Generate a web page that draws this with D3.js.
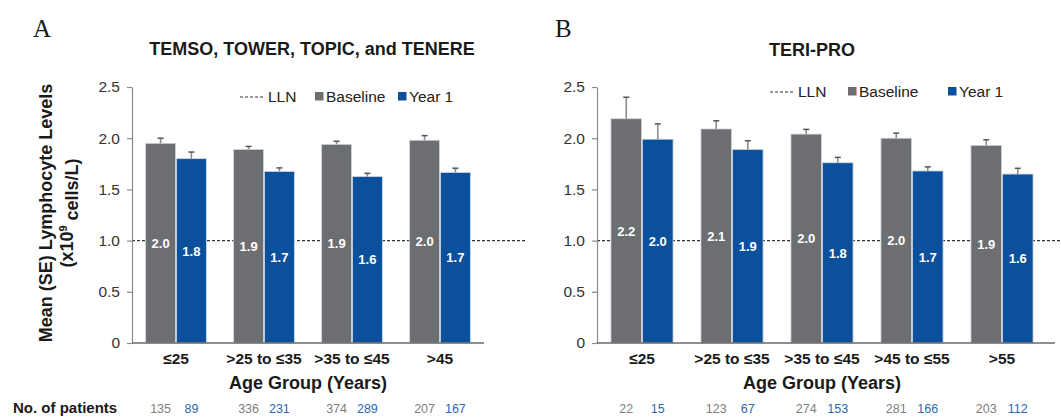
<!DOCTYPE html>
<html><head><meta charset="utf-8">
<script src="https://cdn.jsdelivr.net/npm/d3@7"></script>
<style>
html,body{margin:0;padding:0;background:#fff;}
svg text{font-family:"Liberation Sans",Arial,sans-serif;}
</style></head>
<body>
<svg id="chart" width="1061" height="417"></svg>
<script>
// ---- Data ----
const seriesNames = ["Baseline", "Year 1"];
const yTickValues = [0, 0.5, 1.0, 1.5, 2.0, 2.5];
const yTickLabels = ["0", "0.5", "1.0", "1.5", "2.0", "2.5"];
const lln = 1.0;

const ageGroupsA = ["≤25", ">25 to ≤35", ">35 to ≤45", ">45"];
const baselineA = [1.95, 1.89, 1.94, 1.98];
const baselineSEA = [0.05, 0.03, 0.03, 0.045];
const year1A = [1.80, 1.675, 1.625, 1.665];
const year1SEA = [0.065, 0.035, 0.032, 0.042];
const baselineLabelsA = ["2.0", "1.9", "1.9", "2.0"];
const year1LabelsA = ["1.8", "1.7", "1.6", "1.7"];
const baselineNA = [135, 336, 374, 207];
const year1NA = [89, 231, 289, 167];

const ageGroupsB = ["≤25", ">25 to ≤35", ">35 to ≤45", ">45 to ≤55", ">55"];
const baselineB = [2.19, 2.09, 2.04, 2.00, 1.93];
const baselineSEB = [0.21, 0.08, 0.046, 0.05, 0.055];
const year1B = [1.99, 1.89, 1.76, 1.68, 1.65];
const year1SEB = [0.15, 0.085, 0.053, 0.04, 0.056];
const baselineLabelsB = ["2.2", "2.1", "2.0", "2.0", "1.9"];
const year1LabelsB = ["2.0", "1.9", "1.8", "1.7", "1.6"];
const baselineNB = [22, 123, 274, 281, 203];
const year1NB = [15, 67, 153, 166, 112];

// ---- Style ----
const colors = {"Baseline": "#6d6e71", "Year 1": "#0a509c"};
const nColors = {"Baseline": "#7f7f7f", "Year 1": "#2c68b0"};

const svg = d3.select("#chart");

function drawPanel(cfg) {
  const g = svg.append("g");
  const x = d3.scaleBand().domain(cfg.groups).range([cfg.x0, cfg.x1]);
  const step = x.step();
  const inner = d3.scaleBand().domain(seriesNames)
    .range([-0.345 * step, 0.345 * step]).paddingInner(0.03);
  const y = d3.scaleLinear().domain([0, 2.5]).range([343, 87]);

  // LLN dashed line (behind bars)
  g.append("line").attr("x1", cfg.x0).attr("x2", cfg.dashEnd)
    .attr("y1", y(lln)).attr("y2", y(lln))
    .attr("stroke", "#333").attr("stroke-width", 1.2).attr("stroke-dasharray", "3,2");

  // y axis
  const yAxis = d3.axisLeft(y).tickValues(yTickValues)
    .tickFormat((d, i) => yTickLabels[i]).tickSize(5).tickPadding(7).tickSizeOuter(0);
  const ya = g.append("g").attr("transform", `translate(${cfg.x0},0)`).call(yAxis);
  ya.select(".domain").attr("stroke", "#8a8a8a").attr("stroke-width", 1.2);
  ya.selectAll(".tick line").attr("stroke", "#8a8a8a").attr("stroke-width", 1.2);
  ya.selectAll(".tick text").attr("font-size", 15.5).attr("fill", "#333")
    .style("font-family", '"Liberation Sans",Arial,sans-serif');

  const rows = cfg.groups.map((grp, i) => ({
    grp,
    vals: [
      {s: "Baseline", v: cfg.base[i], se: cfg.baseSE[i], lbl: cfg.baseLbl[i], n: cfg.baseN[i]},
      {s: "Year 1", v: cfg.yr1[i], se: cfg.yr1SE[i], lbl: cfg.yr1Lbl[i], n: cfg.yr1N[i]}
    ]
  }));

  const grpSel = g.selectAll(".grp").data(rows).join("g")
    .attr("transform", d => `translate(${x(d.grp) + step / 2},0)`);

  // bars
  grpSel.selectAll("rect").data(d => d.vals).join("rect")
    .attr("x", d => inner(d.s)).attr("width", inner.bandwidth())
    .attr("y", d => y(d.v)).attr("height", d => y(0) - y(d.v))
    .attr("fill", d => colors[d.s]).attr("stroke", "#cfd4dc").attr("stroke-width", 0.8);

  // x axis line
  g.append("line").attr("x1", cfg.x0).attr("x2", cfg.axisEnd)
    .attr("y1", y(0)).attr("y2", y(0)).attr("stroke", "#6a6a6a").attr("stroke-width", 1.3);

  // error bars
  grpSel.selectAll(".err").data(d => d.vals).join("line").attr("class", "err")
    .attr("x1", d => inner(d.s) + inner.bandwidth() / 2).attr("x2", d => inner(d.s) + inner.bandwidth() / 2)
    .attr("y1", d => y(d.v)).attr("y2", d => y(d.v + d.se))
    .attr("stroke", "#8c8c8c").attr("stroke-width", 1.6);
  grpSel.selectAll(".cap").data(d => d.vals).join("line").attr("class", "cap")
    .attr("x1", d => inner(d.s) + inner.bandwidth() / 2 - 3).attr("x2", d => inner(d.s) + inner.bandwidth() / 2 + 3)
    .attr("y1", d => y(d.v + d.se)).attr("y2", d => y(d.v + d.se))
    .attr("stroke", "#555").attr("stroke-width", 1.5);

  // value labels (centered vertically in bar)
  grpSel.selectAll(".vl").data(d => d.vals).join("text").attr("class", "vl")
    .attr("x", d => inner(d.s) + inner.bandwidth() / 2)
    .attr("y", d => (y(0) + y(d.v)) / 2)
    .attr("dy", "0.36em").attr("text-anchor", "middle")
    .attr("font-size", 13).attr("font-weight", "bold").attr("fill", "#fff")
    .text(d => d.lbl);

  // patient numbers
  grpSel.selectAll(".nl").data(d => d.vals).join("text").attr("class", "nl")
    .attr("x", d => inner(d.s) + inner.bandwidth() / 2).attr("y", 413)
    .attr("text-anchor", "middle").attr("font-size", 12.5)
    .attr("fill", d => nColors[d.s]).text(d => d.n);

  // x tick labels
  grpSel.append("text").attr("x", 0).attr("y", 364).attr("text-anchor", "middle")
    .attr("font-size", 15.5).attr("font-weight", "bold").attr("fill", "#1a1a1a")
    .text(d => d.grp);

  // x axis title
  g.append("text").attr("x", (cfg.x0 + cfg.x1) / 2).attr("y", 389).attr("text-anchor", "middle")
    .attr("font-size", 18).attr("font-weight", "bold").attr("fill", "#1a1a1a")
    .text("Age Group (Years)");

  // title
  g.append("text").attr("x", cfg.titleX).attr("y", cfg.titleY).attr("text-anchor", "middle")
    .attr("font-size", 18).attr("font-weight", "bold").attr("fill", "#1a1a1a").text(cfg.title);

  // panel letter
  g.append("text").attr("x", cfg.letterX).attr("y", 37)
    .style("font-family", '"Liberation Serif","Times New Roman",serif')
    .attr("font-size", 25).attr("fill", "#1a1a1a").text(cfg.letter);

  // legend
  const L = cfg.legend;
  g.append("line").attr("x1", L.dashX).attr("x2", L.dashX + 25).attr("y1", L.y - 5).attr("y2", L.y - 5)
    .attr("stroke", "#333").attr("stroke-width", 1.1).attr("stroke-dasharray", "3,2");
  g.append("text").attr("x", L.dashX + 28).attr("y", L.y).attr("font-size", 15.5).attr("fill", "#222").text("LLN");
  g.append("rect").attr("x", L.baseX).attr("y", L.y - 10).attr("width", 8.5).attr("height", 8.5).attr("fill", colors["Baseline"]);
  g.append("text").attr("x", L.baseX + 11).attr("y", L.y).attr("font-size", 15.5).attr("fill", "#222").text("Baseline");
  g.append("rect").attr("x", L.yrX).attr("y", L.y - 10).attr("width", 8.5).attr("height", 8.5).attr("fill", colors["Year 1"]);
  g.append("text").attr("x", L.yrX + 11).attr("y", L.y).attr("font-size", 15.5).attr("fill", "#222").text("Year 1");
}

drawPanel({
  groups: ageGroupsA, base: baselineA, baseSE: baselineSEA, yr1: year1A, yr1SE: year1SEA,
  baseLbl: baselineLabelsA, yr1Lbl: year1LabelsA, baseN: baselineNA, yr1N: year1NA,
  x0: 132, x1: 484, axisEnd: 484, dashEnd: 525,
  title: "TEMSO, TOWER, TOPIC, and TENERE", titleX: 312, titleY: 55,
  letter: "A", letterX: 33,
  legend: {y: 102, dashX: 240, baseX: 315, yrX: 398}
});
drawPanel({
  groups: ageGroupsB, base: baselineB, baseSE: baselineSEB, yr1: year1B, yr1SE: year1SEB,
  baseLbl: baselineLabelsB, yr1Lbl: year1LabelsB, baseN: baselineNB, yr1N: year1NB,
  x0: 597, x1: 1047, axisEnd: 1055, dashEnd: 1061,
  title: "TERI-PRO", titleX: 812, titleY: 56,
  letter: "B", letterX: 555,
  legend: {y: 97, dashX: 770, baseX: 848, yrX: 948}
});

// y axis title (panel A)
const yt = svg.append("text").attr("transform", "translate(46,213) rotate(-90)")
  .attr("text-anchor", "middle").attr("font-size", 18).attr("font-weight", "bold").attr("fill", "#1a1a1a");
yt.append("tspan").attr("x", 0).attr("dy", "0.35em").text("Mean (SE) Lymphocyte Levels");
const yt2 = svg.append("text").attr("transform", "translate(67,213) rotate(-90)")
  .attr("text-anchor", "middle").attr("font-size", 18).attr("font-weight", "bold").attr("fill", "#1a1a1a");
yt2.append("tspan").attr("dy", "0.35em").text("(x10");
yt2.append("tspan").attr("font-size", 11).attr("dy", "-0.6em").text("9");
yt2.append("tspan").attr("dy", "0.6em").text(" cells/L)");

// No. of patients
svg.append("text").attr("x", 13).attr("y", 413).attr("font-size", 15).attr("font-weight", "bold")
  .attr("fill", "#1a1a1a").text("No. of patients");
</script>
</body></html>
